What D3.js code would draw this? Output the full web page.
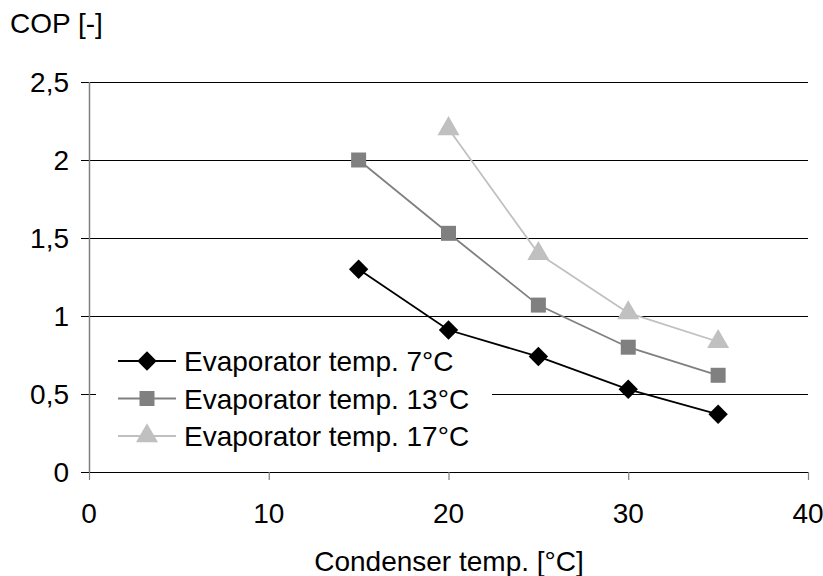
<!DOCTYPE html>
<html><head><meta charset="utf-8">
<script src="https://cdn.jsdelivr.net/npm/d3@7"></script>
<style>body{margin:0;background:#fff}text{font-family:"Liberation Sans",Arial,sans-serif;fill:#000}</style>
</head><body>
<svg id="c" width="823" height="576"></svg>
<script>
const condenserTemps = [15, 20, 25, 30, 35];
const cop7 = [1.30, 0.91, 0.74, 0.53, 0.37];
const cop13 = [2.00, 1.53, 1.07, 0.80, 0.62];
const cop17 = [null, 2.20, 1.40, 1.02, 0.835];
const seriesNames = ["Evaporator temp. 7°C", "Evaporator temp. 13°C", "Evaporator temp. 17°C"];
const seriesColors = ["#000000", "#808080", "#c0c0c0"];
const seriesSymbols = [d3.symbolDiamond2, d3.symbolSquare, d3.symbolTriangle];
const xTicks = [0, 10, 20, 30, 40];
const yTicks = [0, 0.5, 1, 1.5, 2, 2.5];

const svg = d3.select("#c");
const x = d3.scaleLinear().domain([0, 40]).range([89, 808]);
const y = d3.scaleLinear().domain([0, 2.5]).range([472, 82]);
const fmt = v => String(v).replace(".", ",");
const fs = 28;

// gridlines
svg.append("g").selectAll("line").data(yTicks.filter(v => v > 0)).join("line")
  .attr("x1", 81).attr("x2", 808).attr("y1", d => y(d) + 0.5).attr("y2", d => y(d) + 0.5)
  .attr("stroke", "#000").attr("stroke-width", 1.2);
// y axis line
svg.append("line").attr("x1", 89.5).attr("x2", 89.5).attr("y1", 82).attr("y2", 472)
  .attr("stroke", "#808080").attr("stroke-width", 1.5);
// x axis
svg.append("line").attr("x1", 81).attr("x2", 808).attr("y1", 472.5).attr("y2", 472.5)
  .attr("stroke", "#000").attr("stroke-width", 1.2);
svg.append("g").selectAll("line").data(xTicks).join("line")
  .attr("x1", d => x(d) + 0.5).attr("x2", d => x(d) + 0.5).attr("y1", 472).attr("y2", 480)
  .attr("stroke", "#808080").attr("stroke-width", 1.2);

// tick labels
svg.append("g").selectAll("text").data(yTicks).join("text")
  .attr("x", 69).attr("y", d => y(d) + 10).attr("text-anchor", "end")
  .attr("font-size", fs).text(fmt);
svg.append("g").selectAll("text").data(xTicks).join("text")
  .attr("x", d => x(d)).attr("y", 523).attr("text-anchor", "middle")
  .attr("font-size", fs).text(fmt);

// titles
svg.append("text").attr("x", 10).attr("y", 33).attr("font-size", fs).text("COP [-]");
svg.append("text").attr("x", 449).attr("y", 571).attr("text-anchor", "middle").attr("font-size", fs).text("Condenser temp. [°C]");

// legend background
svg.append("rect").attr("x", 96).attr("y", 336).attr("width", 396).attr("height", 120).attr("fill", "#fff");

// series
const allSeries = [cop7, cop13, cop17];
const sym = (s, size) => d3.symbol().type(s).size(size)();
const sizes = [240, 225, 210];
allSeries.forEach((vals, i) => {
  const pts = condenserTemps.map((t, j) => [t, vals[j]]).filter(p => p[1] != null);
  svg.append("path").datum(pts)
    .attr("d", d3.line().x(p => x(p[0])).y(p => y(p[1])))
    .attr("fill", "none").attr("stroke", seriesColors[i]).attr("stroke-width", 1.8);
  svg.append("g").selectAll("path").data(pts).join("path")
    .attr("transform", p => `translate(${x(p[0])},${y(p[1])})`)
    .attr("d", sym(seriesSymbols[i], sizes[i])).attr("fill", seriesColors[i]);
});

// legend
const ly = [361, 398.5, 436];
seriesNames.forEach((n, i) => {
  const g = svg.append("g").attr("transform", `translate(0,${ly[i]})`);
  g.append("line").attr("x1", 118).attr("x2", 176).attr("y1", 0).attr("y2", 0)
    .attr("stroke", seriesColors[i]).attr("stroke-width", 1.8);
  g.append("path").attr("transform", "translate(147,0)").attr("d", sym(seriesSymbols[i], sizes[i])).attr("fill", seriesColors[i]);
  g.append("text").attr("x", 184).attr("y", 10).attr("font-size", fs).text(n);
});
</script>
</body></html>
